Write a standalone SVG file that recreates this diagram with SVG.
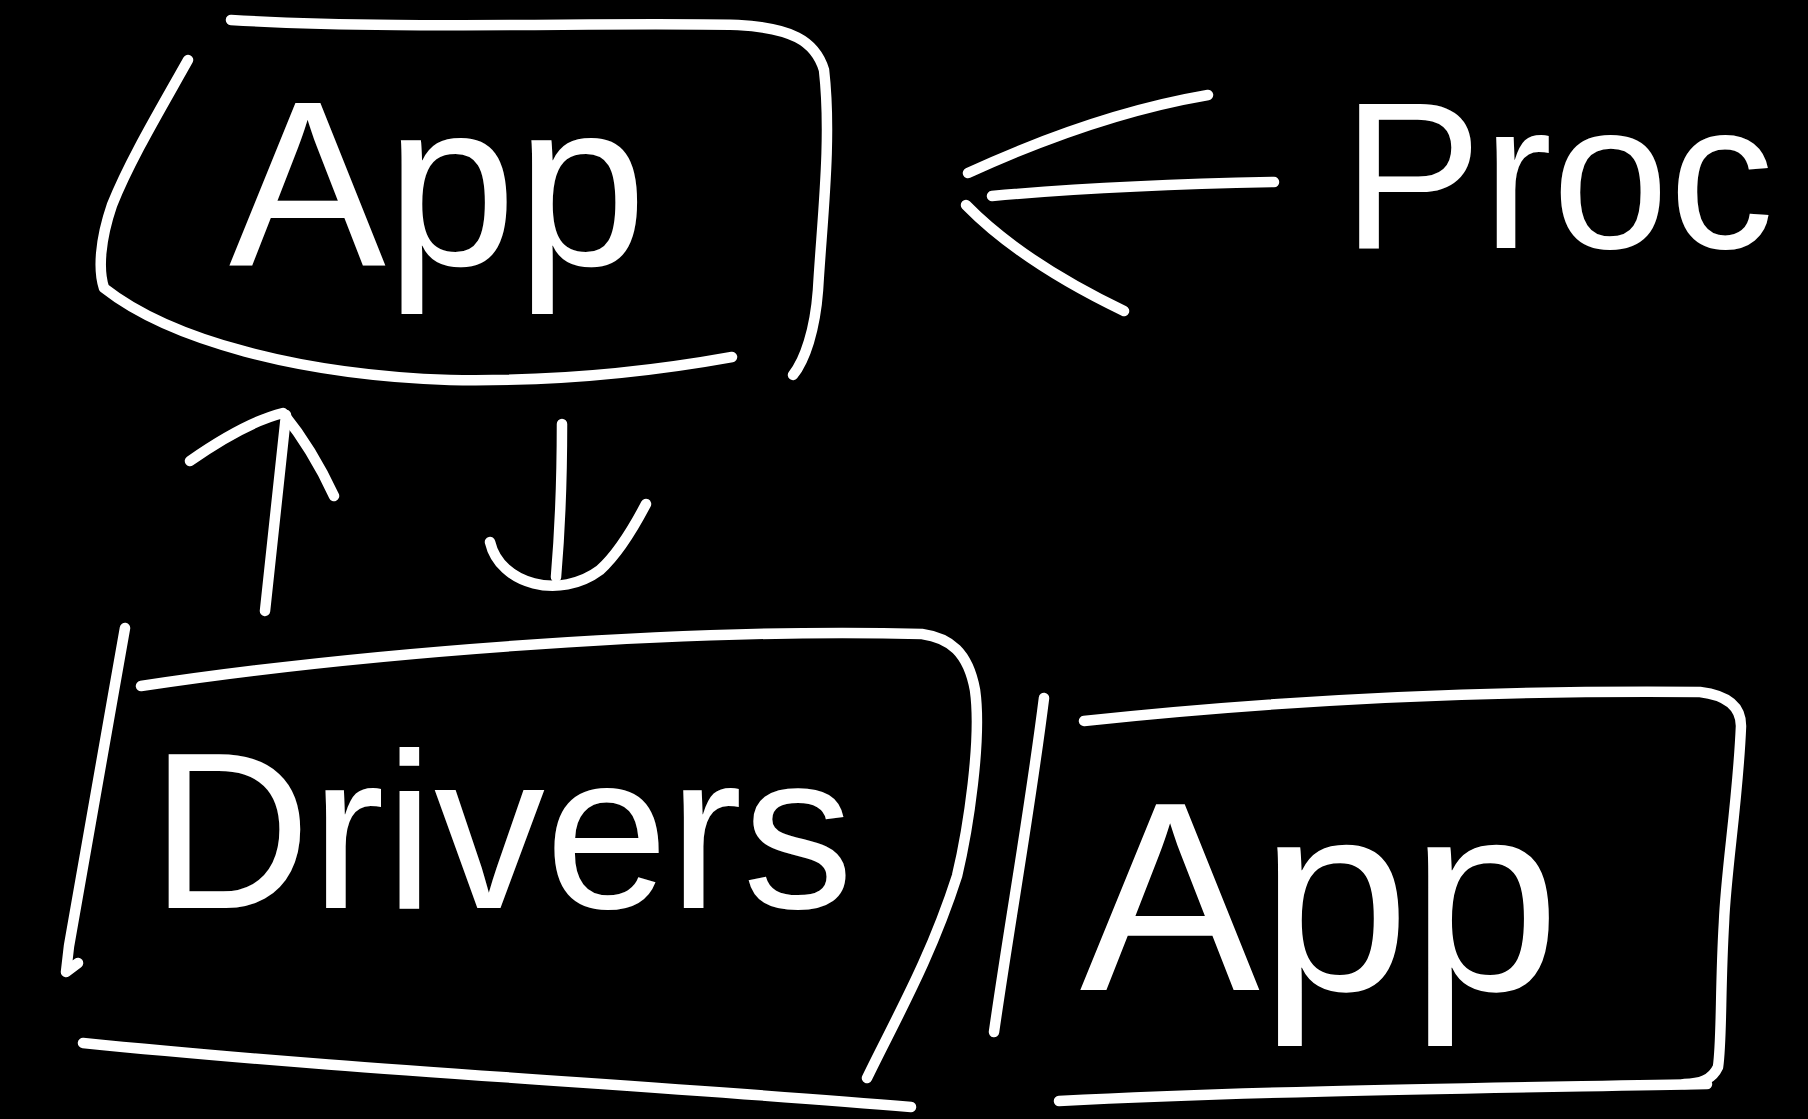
<svg xmlns="http://www.w3.org/2000/svg" width="1808" height="1119" viewBox="0 0 1808 1119">
<style>
.s{fill:none;stroke:#fff;stroke-width:10.5;stroke-linecap:round;stroke-linejoin:round}
.t{fill:#fff;font-family:"Liberation Sans",Arial,sans-serif}
</style>
<rect width="1808" height="1119" fill="#000"/>
<g id="app-top">
<path class="s" d="M231,20 C400,30 600,22 738,25 C790,28 815,40 824,70 C832,140 822,220 818,290 C815,330 805,360 793,375"/>
<path class="s" d="M188,60 C160,110 130,160 112,205 C100,240 98,270 104,288 C170,340 300,375 450,380 C560,382 660,370 732,357"/>
<text class="t" x="438" y="265" font-size="235" text-anchor="middle">App</text>
</g>
<g id="proc">
<text class="t" x="1558" y="248" font-size="210" text-anchor="middle">Proc</text>
</g>
<g id="drivers">
<path class="s" d="M125,628 C105,740 85,860 69,946 L66,972 L78,963"/>
<path class="s" d="M141,686 C380,650 700,628 922,634 C950,638 968,652 975,690 C982,740 968,830 957,876 C930,960 895,1020 867,1078"/>
<path class="s" d="M83,1043 C350,1070 650,1085 911,1107"/>
<text class="t" x="502" y="908" font-size="222" text-anchor="middle">Drivers</text>
</g>
<g id="app-bottom">
<path class="s" d="M1044,698 C1030,810 1010,920 994,1032"/>
<path class="s" d="M1084,721 C1280,700 1480,690 1700,692 C1725,695 1741,705 1741,726 C1738,800 1726,870 1724,922 C1720,990 1722,1040 1718,1067 C1712,1080 1700,1084 1684,1084"/>
<path class="s" d="M1059,1101 C1280,1090 1500,1088 1707,1084"/>
<text class="t" x="1320" y="990" font-size="270" text-anchor="middle">App</text>
</g>
<g id="connectors">
<path class="s" d="M1208,95 C1120,110 1040,140 968,173"/>
<path class="s" d="M1274,182 C1170,184 1080,188 992,196"/>
<path class="s" d="M966,205 C1010,250 1070,285 1124,311"/>
<path class="s" d="M265,611 C272,540 280,470 286,415"/>
<path class="s" d="M190,461 C220,440 255,420 283,413 C305,440 322,470 334,496"/>
<path class="s" d="M562,424 C562,480 560,530 556,577"/>
<path class="s" d="M490,542 C500,585 560,600 600,570 C620,552 635,525 646,504"/>
</g>
</svg>
